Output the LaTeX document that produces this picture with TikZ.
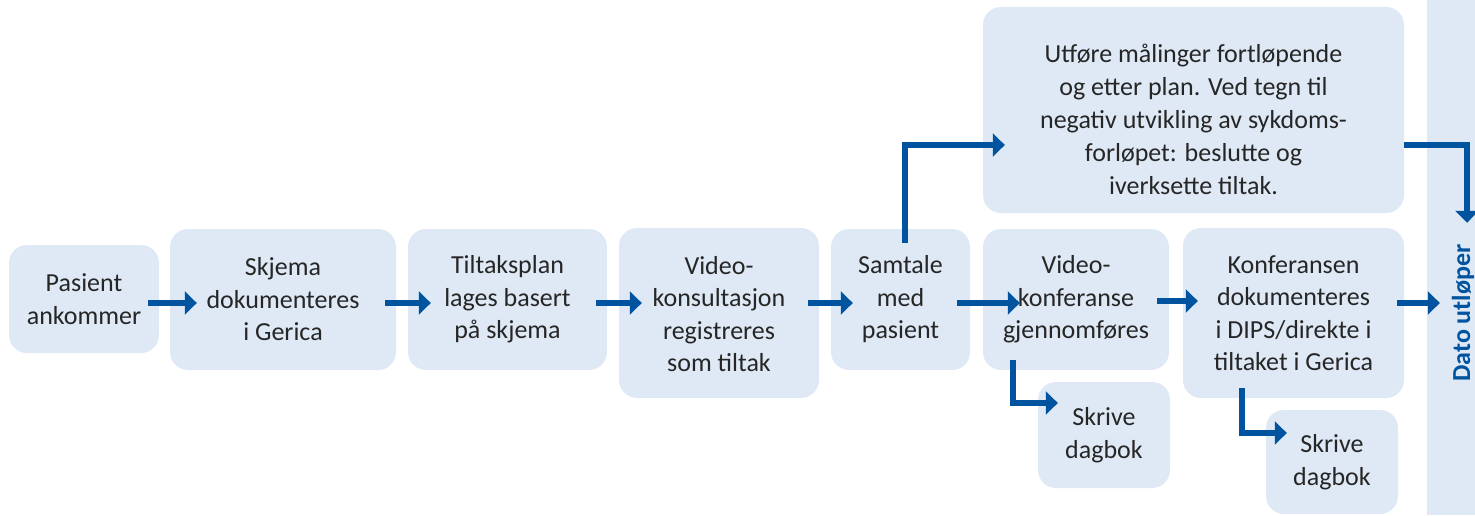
\documentclass[tikz,border=0pt]{standalone}
\usepackage{fontspec}
\setmainfont{Carlito}
\usetikzlibrary{arrows.meta}
\definecolor{boxfill}{HTML}{DEE9F5}
\definecolor{arrblue}{HTML}{00549F}
\definecolor{txt}{HTML}{262626}
\begin{document}
\begin{tikzpicture}[x=1pt,y=1pt,
  box/.style={fill=boxfill, rounded corners=18pt, inner sep=0pt, align=center,
    text=txt, font=\fontsize{26}{32.5}\selectfont},
  arr/.style={draw=arrblue, line width=5.5pt, -{Triangle[length=12pt,width=23pt]}}]
\useasboundingbox (0,0) rectangle (1475,515);
% boxes
\node[box, minimum width=150pt, minimum height=108pt] (pas) at (84,216) {Pasient\\ankommer};
\node[box, minimum width=226pt, minimum height=141pt] (skj) at (283,215.5) {Skjema\\dokumenteres\\i Gerica};
\node[box, minimum width=199pt, minimum height=141pt] (til) at (507.5,215.5) {Tiltaksplan\\lages basert\\på skjema};
\node[box, minimum width=200pt, minimum height=170pt] (vid) at (719,202) {\raisebox{-9.5pt}[0pt][0pt]{\begin{tabular}{@{}c@{}}Video-\\konsultasjon\\registreres\\som tiltak\end{tabular}}};
\node[box, minimum width=139pt, minimum height=141pt] (sam) at (900.5,215.5) {Samtale\\med\\pasient};
\node[box, minimum width=421pt, minimum height=206pt] (top) at (1193.5,405) {\raisebox{-18pt}[0pt][0pt]{\fontsize{26}{33}\selectfont\begin{tabular}{@{}c@{}}Utføre målinger fortløpende\\og etter plan. Ved tegn til\\negativ utvikling av sykdoms-\\forløpet: beslutte og\\iverksette tiltak.\end{tabular}}};
\node[box, minimum width=186pt, minimum height=141pt] (vkf) at (1076,215.5) {Video-\\konferanse\\gjennomføres};
\node[box, minimum width=132pt, minimum height=106pt] (skr1) at (1104,80) {Skrive\\dagbok};
\node[box, minimum width=221pt, minimum height=170pt] (kon) at (1293.5,202) {Konferansen\\dokumenteres\\i DIPS/direkte i\\tiltaket i Gerica};
\node[box, minimum width=132pt, minimum height=104pt] (skr2) at (1332,53) {Skrive\\dagbok};
\node[fill=boxfill, inner sep=0pt, minimum width=48pt, minimum height=515pt] (bar) at (1451,257.5) {};
\node[rotate=90, text=arrblue, font=\fontsize{26}{32}\selectfont\bfseries, inner sep=0pt] (dato) at (1463,202) {Dato utløper};
% connectors
\draw[arr] ([shift={(-11,-4)}]pas.east) -- ([shift={(27,-3.5)}]skj.west);
\draw[arr] ([shift={(-11,-3.5)}]skj.east) -- ([shift={(23,-3.5)}]til.west);
\draw[arr] ([shift={(-11,-3.5)}]til.east) -- ([shift={(23,10)}]vid.west);
\draw[arr] ([shift={(-11,10)}]vid.east) -- ([shift={(22,-3.5)}]sam.west);
\draw[arr] ([shift={(-13,-3.5)}]sam.east) -- ([shift={(37,-3.5)}]vkf.west);
\draw[arr] ([shift={(-12,-1.5)}]vkf.east) -- ([shift={(15,12)}]kon.west);
\draw[arr] ([shift={(-7,10)}]kon.east) -- ([shift={(13,-45.5)}]bar.west);
\draw[arr] ([shift={(4.5,-14)}]sam.north) |- ([shift={(22,-35)}]top.west);
\draw[arr] ([shift={(0,-35)}]top.east) -| ([shift={(16,-223)}]bar.north);
\draw[arr] ([shift={(-63,10)}]vkf.south) |- ([shift={(20,32)}]skr1.west);
\draw[arr] ([shift={(-51.5,10)}]kon.south) |- ([shift={(21,29)}]skr2.west);
\end{tikzpicture}
\end{document}
